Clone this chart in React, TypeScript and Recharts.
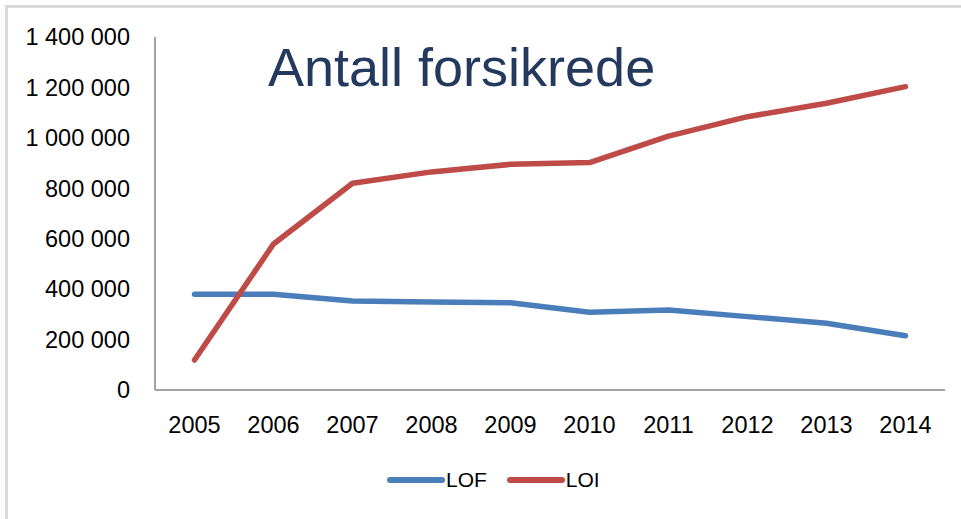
import React from 'react';
import { LineChart, Line, XAxis, YAxis, Legend } from 'recharts';

const years = ['2005', '2006', '2007', '2008', '2009', '2010', '2011', '2012', '2013', '2014'];
const lofValues = [380000, 380000, 353000, 349000, 346000, 308000, 317000, 291000, 265000, 215000];
const loiValues = [119000, 579000, 820000, 865000, 895000, 902000, 1007000, 1084000, 1137000, 1203000];
const yTicks = [0, 200000, 400000, 600000, 800000, 1000000, 1200000, 1400000];
const seriesNames = ['LOF', 'LOI'];
const title = 'Antall forsikrede';

const data = years.map((y, i) => ({ year: y, LOF: lofValues[i], LOI: loiValues[i] }));

const FONT = '"Liberation Sans", Arial, sans-serif';
const fmt = (v: number) => String(v).replace(/\B(?=(\d{3})+(?!\d))/g, ' ');

const LegendContent = (props: any) => {
  const payload = props.payload || [];
  return (
    <div style={{ display: 'flex', alignItems: 'center', fontFamily: FONT, fontSize: 21, color: '#000' }}>
      {payload.map((p: any, i: number) => (
        <div key={i} style={{ display: 'flex', alignItems: 'center', marginRight: 20 }}>
          <svg width={58} height={12}>
            <line x1={3} y1={6} x2={55} y2={6} stroke={p.color} strokeWidth={6} strokeLinecap="round" />
          </svg>
          <span style={{ marginLeft: 1 }}>{p.value}</span>
        </div>
      ))}
    </div>
  );
};

export default function App() {
  return (
    <div style={{ position: 'absolute', left: 0, top: 0, width: 961, height: 519, background: '#fff', overflow: 'hidden' }}>
      <div
        style={{
          position: 'absolute',
          left: 5,
          top: 5,
          width: 956,
          height: 514,
          borderTop: '3px solid #d9d9d9',
          borderLeft: '3px solid #d9d9d9',
          boxSizing: 'border-box',
        }}
      />
      <div style={{ position: 'absolute', left: 0, top: 0 }}>
        <LineChart width={961} height={519} data={data} margin={{ top: 37, right: 16, bottom: 69, left: 0 }}>
          <XAxis
            dataKey="year"
            scale="band"
            axisLine={{ stroke: '#868686', strokeWidth: 1.5 }}
            tickLine={false}
            tickSize={0}
            tickMargin={26}
            height={60}
            interval={0}
            tick={{ fill: '#000', fontSize: 23.5, fontFamily: FONT }}
          />
          <YAxis
            domain={[0, 1400000]}
            ticks={yTicks}
            width={155}
            axisLine={{ stroke: '#868686', strokeWidth: 1.5 }}
            tickLine={false}
            tickSize={0}
            tickMargin={25}
            tickFormatter={fmt}
            interval={0}
            tick={{ fill: '#000', fontSize: 23.5, fontFamily: FONT }}
          />
          <Legend
            verticalAlign="middle"
            content={<LegendContent />}
            wrapperStyle={{ top: 468, left: 387, width: 'auto' }}
          />
          <Line
            type="linear"
            dataKey="LOF"
            name={seriesNames[0]}
            stroke="#4a7ebb"
            strokeWidth={5.5}
            strokeLinecap="round"
            strokeLinejoin="round"
            dot={false}
            activeDot={false}
            isAnimationActive={false}
          />
          <Line
            type="linear"
            dataKey="LOI"
            name={seriesNames[1]}
            stroke="#be4b48"
            strokeWidth={5.5}
            strokeLinecap="round"
            strokeLinejoin="round"
            dot={false}
            activeDot={false}
            isAnimationActive={false}
          />
        </LineChart>
      </div>
      <div
        style={{
          position: 'absolute',
          left: 268,
          top: 40,
          fontFamily: FONT,
          fontSize: 54,
          lineHeight: 1,
          color: '#23395d',
          whiteSpace: 'nowrap',
        }}
      >
        {title}
      </div>
    </div>
  );
}
